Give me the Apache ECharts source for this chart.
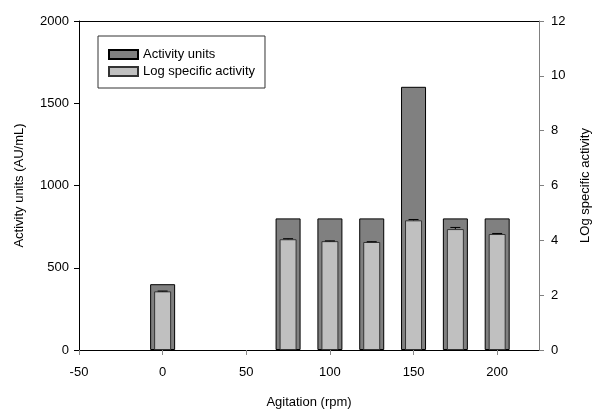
<!DOCTYPE html>
<html>
<head>
<meta charset="utf-8">
<script src="https://cdn.jsdelivr.net/npm/echarts@6/dist/echarts.min.js"></script>
<style>html,body{margin:0;padding:0;background:#fff}#c{width:592px;height:409px}</style>
</head>
<body>
<div id="c"></div>
<script>
const agitation = [0, 75, 100, 125, 150, 175, 200];
const activityUnits = [400, 800, 800, 800, 1600, 800, 800];
const logSpecific = [2.14, 4.04, 3.97, 3.94, 4.73, 4.41, 4.23];
const logSpecificErr = [0.01, 0.02, 0.01, 0.01, 0.03, 0.06, 0.02];
const xTicks = [-50, 0, 50, 100, 150, 200];

const FONT = 'Liberation Sans, Arial, sans-serif';
const chart = echarts.init(document.getElementById('c'));
chart.setOption({
  animation: false,
  textStyle: { fontFamily: FONT },
  grid: { left: 79, right: 53, top: 21, bottom: 59, containLabel: false, outerBoundsMode: 'none' },
  legend: {
    orient: 'vertical', left: 98, top: 36,
    padding: [12, 10, 10, 10],
    borderColor: '#333', borderWidth: 1,
    itemWidth: 29, itemHeight: 9, itemGap: 4,
    icon: 'rect',
    textStyle: { fontFamily: FONT, fontSize: 13, color: '#000' },
    data: ['Activity units', 'Log specific activity']
  },
  xAxis: [{
    type: 'value', min: -50, max: 225, interval: 50,
    name: 'Agitation (rpm)', nameLocation: 'middle', nameGap: 46,
    nameTextStyle: { fontFamily: FONT, fontSize: 13, color: '#000' },
    axisLine: { onZero: false, lineStyle: { color: '#000', width: 1 } },
    axisTick: { show: true, length: 5, lineStyle: { color: '#888' }, customValues: xTicks },
    axisLabel: { fontFamily: FONT, fontSize: 13, color: '#000', margin: 16, customValues: xTicks },
    splitLine: { show: false }
  }, {
    type: 'value', min: -50, max: 225, position: 'top',
    axisLine: { show: true, onZero: false, lineStyle: { color: '#000', width: 1 } },
    axisTick: { show: false }, axisLabel: { show: false }, splitLine: { show: false }
  }],
  yAxis: [{
    type: 'value', min: 0, max: 2000, interval: 500,
    name: 'Activity units (AU/mL)', nameLocation: 'middle', nameGap: 53,
    nameTextStyle: { fontFamily: FONT, fontSize: 13, color: '#000' },
    axisLine: { show: true, onZero: false, lineStyle: { color: '#000' } },
    axisTick: { show: true, length: 5, lineStyle: { color: '#000' } },
    axisLabel: { fontFamily: FONT, fontSize: 13, color: '#000', margin: 10, formatter: v => String(v) },
    splitLine: { show: false }
  }, {
    type: 'value', min: 0, max: 12, interval: 2, position: 'right',
    name: 'LOg specific activity', nameLocation: 'middle', nameGap: 40, nameRotate: 90,
    nameTextStyle: { fontFamily: FONT, fontSize: 13, color: '#000' },
    axisLine: { show: true, onZero: false, lineStyle: { color: '#808080' } },
    axisTick: { show: true, length: 5, lineStyle: { color: '#808080' } },
    axisLabel: { fontFamily: FONT, fontSize: 13, color: '#000', margin: 12 },
    splitLine: { show: false }
  }],
  series: [{
    name: 'Activity units', type: 'bar', xAxisIndex: 0, yAxisIndex: 0,
    barWidth: 25,
    itemStyle: { color: '#808080', borderColor: '#000', borderWidth: 1 },
    data: agitation.map((x, i) => [x, activityUnits[i]])
  }, {
    name: 'Log specific activity', type: 'bar', xAxisIndex: 1, yAxisIndex: 1,
    barWidth: 17,
    itemStyle: { color: '#c0c0c0', borderColor: '#333', borderWidth: 1 },
    data: agitation.map((x, i) => [x, logSpecific[i]]),
    z: 3
  }, {
    name: 'err', type: 'custom', xAxisIndex: 1, yAxisIndex: 1, z: 4,
    data: agitation.map((x, i) => [x, logSpecific[i], logSpecific[i] + logSpecificErr[i]]),
    renderItem: function (params, api) {
      const x = api.value(0);
      const lo = api.coord([x, api.value(1)]);
      const hi = api.coord([x, api.value(2)]);
      const hw = 5;
      const st = { stroke: '#000', lineWidth: 1 };
      return {
        type: 'group', children: [
          { type: 'line', shape: { x1: lo[0], y1: lo[1], x2: hi[0], y2: hi[1] }, style: st },
          { type: 'line', shape: { x1: hi[0] - hw, y1: hi[1], x2: hi[0] + hw, y2: hi[1] }, style: st }
        ]
      };
    }
  }]
});
</script>
</body>
</html>
